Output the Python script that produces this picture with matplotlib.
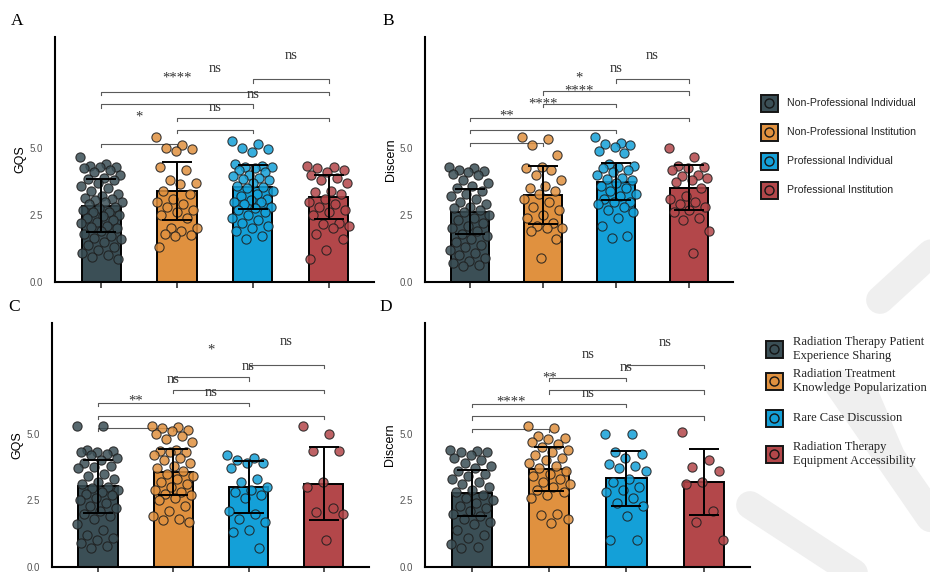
import numpy as np
import matplotlib.pyplot as plt
from matplotlib.lines import Line2D
from matplotlib.patches import Rectangle

plt.rcParams['font.family'] = ['Liberation Sans', 'DejaVu Sans']

colors = ['#3b4f56', '#e0913f', '#14a0d8', '#b3474a']

# group means and standard deviations read per panel
mean_A = [2.85, 3.40, 3.55, 3.18]
sd_A = [0.99, 1.08, 0.81, 0.81]
mean_B = [2.63, 3.25, 3.75, 3.52]
sd_B = [0.84, 1.08, 0.70, 0.84]
mean_C = [3.03, 3.55, 3.00, 3.13]
sd_C = [0.99, 0.86, 0.96, 1.37]
mean_D = [2.76, 3.67, 3.32, 3.20]
sd_D = [0.86, 0.82, 1.03, 1.24]

# individual scores
pts_A = [
    [4.65, 4.4, 4.35, 4.3, 4.3, 4.25, 4.2, 4.1, 4.0, 3.9, 3.85, 3.8, 3.7, 3.6, 3.5, 3.4, 3.3,
     3.2, 3.15, 3.1, 3.05, 3.0, 3.0, 2.9, 2.8, 2.75, 2.7, 2.6, 2.6, 2.5, 2.45, 2.4, 2.3, 2.25,
     2.2, 2.1, 2.05, 2.0, 1.9, 1.8, 1.7, 1.65, 1.6, 1.5, 1.4, 1.3, 1.2, 1.1, 1.0, 0.95, 0.85],
    [5.4, 5.1, 5.0, 4.95, 4.9, 4.3, 4.2, 3.8, 3.7, 3.65, 3.4, 3.3, 3.1, 3.0, 2.9, 2.8, 2.7,
     2.6, 2.5, 2.4, 2.0, 2.0, 1.9, 1.8, 1.75, 1.7, 1.3],
    [5.25, 5.15, 5.0, 4.95, 4.85, 4.4, 4.35, 4.3, 4.3, 4.25, 4.2, 4.1, 4.0, 3.95, 3.9, 3.85,
     3.8, 3.7, 3.6, 3.55, 3.5, 3.4, 3.3, 3.2, 3.1, 3.05, 3.0, 3.0, 2.9, 2.8, 2.75, 2.7, 2.6,
     2.5, 2.4, 2.3, 2.2, 2.1, 2.0, 1.9, 1.7, 1.6],
    [4.35, 4.3, 4.25, 4.2, 4.1, 4.0, 3.9, 3.8, 3.7, 3.4, 3.35, 3.3, 3.1, 3.0, 2.9, 2.8, 2.7,
     2.6, 2.5, 2.2, 2.15, 2.1, 2.0, 1.8, 1.6, 1.2, 0.85],
]
pts_B = [
    [4.3, 4.25, 4.2, 4.15, 4.1, 4.05, 4.0, 3.8, 3.7, 3.6, 3.5, 3.4, 3.3, 3.2, 3.1, 3.0, 2.9,
     2.8, 2.75, 2.7, 2.6, 2.5, 2.4, 2.3, 2.2, 2.1, 2.0, 1.9, 1.8, 1.7, 1.6, 1.5, 1.4, 1.3,
     1.2, 1.1, 1.0, 0.9, 0.8, 0.7, 0.65, 0.6],
    [5.4, 5.35, 5.1, 4.75, 4.3, 4.25, 4.2, 4.0, 3.8, 3.6, 3.5, 3.4, 3.3, 3.1, 3.0, 2.8, 2.7,
     2.5, 2.4, 2.2, 2.1, 2.0, 2.0, 1.9, 1.6, 0.9],
    [5.4, 5.2, 5.15, 5.1, 5.05, 4.9, 4.8, 4.4, 4.35, 4.3, 4.25, 4.2, 4.1, 4.0, 3.9, 3.85,
     3.8, 3.7, 3.6, 3.5, 3.4, 3.3, 3.2, 3.1, 3.0, 3.0, 2.9, 2.8, 2.7, 2.6, 2.4, 2.1, 1.7, 1.65],
    [5.0, 4.65, 4.35, 4.3, 4.25, 4.2, 4.0, 3.95, 3.9, 3.8, 3.75, 3.5, 3.2, 3.1, 3.0, 2.9,
     2.8, 2.7, 2.6, 2.4, 2.3, 1.9, 1.1],
]
pts_C = [
    [5.3, 5.3, 4.4, 4.35, 4.3, 4.3, 4.25, 4.2, 4.1, 4.0, 3.9, 3.8, 3.75, 3.7, 3.5, 3.4, 3.3,
     3.2, 3.1, 3.0, 2.95, 2.9, 2.8, 2.75, 2.7, 2.6, 2.5, 2.4, 2.3, 2.2, 2.1, 2.0, 1.9, 1.8,
     1.6, 1.4, 1.2, 1.1, 1.0, 0.9, 0.8, 0.7],
    [5.3, 5.25, 5.2, 5.15, 5.1, 5.0, 4.9, 4.8, 4.7, 4.4, 4.35, 4.3, 4.3, 4.2, 4.1, 4.0, 3.9,
     3.8, 3.7, 3.6, 3.5, 3.4, 3.3, 3.2, 3.1, 3.0, 2.9, 2.8, 2.75, 2.7, 2.6, 2.5, 2.3, 2.1,
     1.9, 1.8, 1.75, 1.7],
    [4.2, 4.1, 4.0, 3.9, 3.9, 3.7, 3.3, 3.2, 3.0, 2.9, 2.8, 2.7, 2.6, 2.1, 2.0, 1.8, 1.7,
     1.4, 1.3, 0.7],
    [5.3, 5.0, 4.35, 4.35, 3.2, 3.0, 2.2, 2.05, 2.0, 1.0],
]
pts_D = [
    [4.4, 4.35, 4.3, 4.3, 4.2, 4.1, 4.0, 3.9, 3.8, 3.7, 3.6, 3.5, 3.4, 3.3, 3.2, 3.1, 3.0,
     2.9, 2.8, 2.7, 2.6, 2.5, 2.4, 2.3, 2.2, 2.1, 2.0, 1.9, 1.8, 1.7, 1.6, 1.4, 1.2, 1.1,
     0.85, 0.75, 0.7],
    [5.3, 5.2, 4.9, 4.85, 4.8, 4.7, 4.6, 4.5, 4.4, 4.3, 4.2, 4.1, 4.0, 3.9, 3.8, 3.7, 3.6,
     3.5, 3.4, 3.3, 3.2, 3.1, 3.0, 2.9, 2.8, 2.7, 2.6, 2.0, 1.95, 1.8, 1.65],
    [5.0, 5.0, 4.3, 4.25, 4.1, 3.85, 3.8, 3.7, 3.6, 3.3, 3.2, 3.0, 2.9, 2.8, 2.6, 2.4, 2.3,
     1.9, 1.0, 1.0],
    [5.05, 4.0, 3.75, 3.6, 3.2, 3.1, 2.1, 1.7, 1.0],
]

# significance brackets: (group i, group j, bracket height, label, label height)
sig_A = [(0, 1, 5.17, '*', 6.17), (1, 2, 5.67, 'ns', 6.51), (1, 3, 6.14, 'ns', 7.0),
         (0, 2, 6.63, '****', 7.6), (0, 3, 7.1, 'ns', 7.97), (2, 3, 7.57, 'ns', 8.46)]
sig_B = [(0, 1, 5.2, '**', 6.19), (0, 2, 5.68, '****', 6.66), (0, 3, 6.14, '****', 7.13),
         (1, 2, 6.64, '*', 7.62), (1, 3, 7.12, 'ns', 7.97), (2, 3, 7.57, 'ns', 8.46)]
sig_C = [(0, 1, 5.21, '**', 6.21), (0, 3, 5.68, 'ns', 6.55), (0, 2, 6.15, 'ns', 7.03),
         (1, 3, 6.65, 'ns', 7.5), (1, 2, 7.11, '*', 8.15), (2, 3, 7.59, 'ns', 8.46)]
sig_D = [(0, 1, 5.19, '****', 6.18), (0, 3, 5.65, 'ns', 6.52), (0, 2, 6.12, '**', 7.09),
         (1, 3, 6.62, 'ns', 7.49), (1, 2, 7.08, 'ns', 7.98), (2, 3, 7.57, 'ns', 8.42)]

legend_top = ['Non-Professional Individual', 'Non-Professional Institution',
              'Professional Individual', 'Professional Institution']
legend_bottom = ['Radiation Therapy Patient\nExperience Sharing',
                 'Radiation Treatment\nKnowledge Popularization',
                 'Rare Case Discussion',
                 'Radiation Therapy\nEquipment Accessibility']

W, H = 930, 572
fig = plt.figure(figsize=(W / 100, H / 100), dpi=100)

# pixel-space overlay for background strokes and the legends
bg = fig.add_axes([0, 0, 1, 1], zorder=-5)
bg.set_xlim(0, W)
bg.set_ylim(H, 0)
bg.axis('off')
for (x0, y0, x1, y1, lw) in [(750, 505, 880, 590, 20), (840, 385, 940, 530, 22),
                              (880, 300, 940, 245, 20), (868, 395, 900, 470, 16)]:
    bg.plot([x0, x1], [y0, y1], color='#efefef', lw=lw, solid_capstyle='round')


def panel(rect, means, sds, pts, sigs, ylabel, letter):
    ax = fig.add_axes(rect)
    ax.patch.set_alpha(0)
    x = np.arange(4)
    ax.bar(x, means, width=0.52, color=colors, edgecolor='black', linewidth=1.4, zorder=2)
    for i, vals in enumerate(pts):
        n = len(vals)
        off = ((np.arange(n) * 0.618034) % 1 - 0.5) * 0.56
        ax.scatter(i + off, vals, s=44, color=colors[i], alpha=0.85,
                   edgecolor='#1e1e1e', linewidth=0.8, zorder=3)
    ax.errorbar(x, means, yerr=sds, fmt='none', ecolor='black', elinewidth=1.4,
                capsize=11, capthick=1.4, zorder=4)
    for (i, j, h, lab, lh) in sigs:
        ax.plot([i, i, j, j], [h - 0.12, h, h, h - 0.12], color='#5a5a5a', lw=0.8, zorder=1)
        ax.text((i + j) / 2, lh, lab, ha='center', va='center', fontsize=10.5,
                family=['Liberation Serif'], color='#333333', zorder=5)
    ax.set_xlim(-0.61, 3.6)
    ax.set_ylim(0, 9.15)
    ax.set_yticks([0, 2.5, 5.0])
    ax.set_yticklabels(['0.0', '2.5', '5.0'])
    ax.set_xticks(x)
    ax.set_xticklabels([])
    ax.tick_params(axis='y', length=0, pad=9, labelsize=7, labelcolor='#555555')
    ax.tick_params(axis='x', length=4, width=1.2, color='#333333')
    for s in ['top', 'right']:
        ax.spines[s].set_visible(False)
    for s in ['left', 'bottom']:
        ax.spines[s].set_linewidth(1.5)
    ax.set_ylabel(ylabel, fontsize=9)
    ax.yaxis.set_label_coords(-0.09, 0.5)
    ax.text(-0.12, 1.065, letter, transform=ax.transAxes, fontsize=12.5,
            family=['Liberation Serif'], ha='center', va='center')
    return ax


panel([55 / W, 1 - 282 / H, 319 / W, 245 / H], mean_A, sd_A, pts_A, sig_A, 'GQS', 'A')
panel([425 / W, 1 - 282 / H, 308 / W, 245 / H], mean_B, sd_B, pts_B, sig_B, 'Discern', 'B')
panel([52 / W, 1 - 567 / H, 317 / W, 244 / H], mean_C, sd_C, pts_C, sig_C, 'GQS', 'C')
panel([425 / W, 1 - 567 / H, 325 / W, 244 / H], mean_D, sd_D, pts_D, sig_D, 'Discern', 'D')


def legend(cx, ys, labels, tx, fam, fs):
    for c, y, lab in zip(colors, ys, labels):
        bg.add_patch(Rectangle((cx - 8.5, y - 8.5), 17, 17, facecolor=c,
                               edgecolor='#151515', lw=1.4, zorder=5))
        bg.add_line(Line2D([cx], [y], marker='o', markersize=6.5, markerfacecolor=c,
                           markeredgecolor='#151515', markeredgewidth=1.0, zorder=6))
        bg.text(tx, y, lab, ha='left', va='center', fontsize=fs, family=fam,
                color='#222222', zorder=6)


legend(769, [103, 132, 161, 190], legend_top, 787, ['Liberation Sans'], 7.6)
legend(774, [349, 381, 418, 454], legend_bottom, 793, ['Liberation Serif'], 9)

fig.savefig('out.png', dpi=100)
